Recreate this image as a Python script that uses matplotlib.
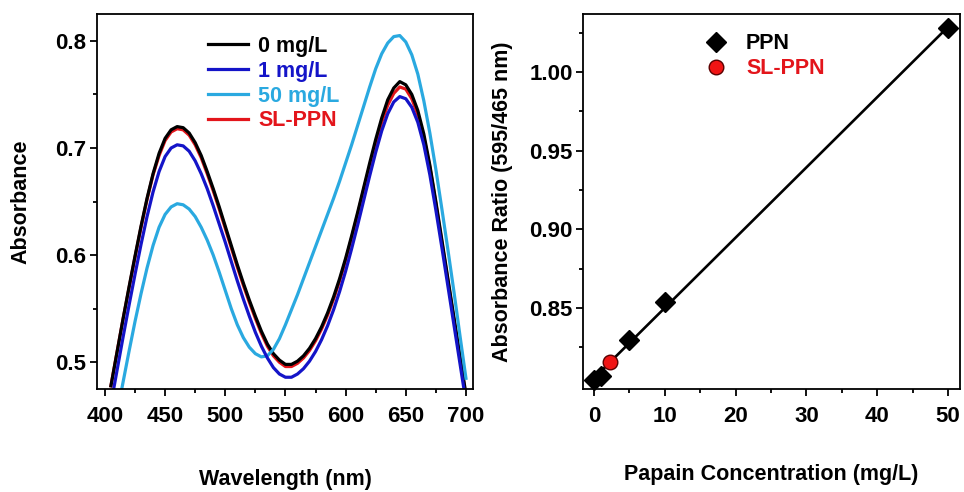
"""UV-vis spectra and papain calibration curve."""

import matplotlib
matplotlib.use("Agg")
import matplotlib.pyplot as plt
import numpy as np
from matplotlib.ticker import FixedLocator, MultipleLocator

plt.rcParams["font.family"] = ["Liberation Sans", "DejaVu Sans"]
plt.rcParams["font.weight"] = "bold"

# spectra, sampled every 5 nm
wavelength = np.arange(405, 705, 5)
abs_0 = [0.478, 0.509, 0.540, 0.570, 0.599, 0.627, 0.653, 0.676, 0.695, 0.709,
         0.717, 0.720, 0.719, 0.714, 0.705, 0.693, 0.678, 0.662, 0.645, 0.627,
         0.609, 0.591, 0.574, 0.558, 0.543, 0.529, 0.517, 0.508, 0.502, 0.498,
         0.498, 0.501, 0.506, 0.513, 0.522, 0.533, 0.546, 0.561, 0.578, 0.597,
         0.618, 0.640, 0.663, 0.686, 0.708, 0.728, 0.745, 0.756, 0.762, 0.759,
         0.750, 0.735, 0.713, 0.684, 0.650, 0.614, 0.578, 0.542, 0.506, 0.470]
abs_1 = [0.461, 0.492, 0.523, 0.553, 0.582, 0.610, 0.636, 0.659, 0.678, 0.692,
         0.700, 0.703, 0.702, 0.697, 0.688, 0.676, 0.662, 0.646, 0.629, 0.612,
         0.594, 0.576, 0.559, 0.543, 0.528, 0.515, 0.504, 0.495, 0.489, 0.486,
         0.486, 0.489, 0.494, 0.501, 0.510, 0.521, 0.534, 0.549, 0.566, 0.585,
         0.606, 0.628, 0.651, 0.674, 0.696, 0.716, 0.732, 0.743, 0.748, 0.746,
         0.738, 0.724, 0.703, 0.675, 0.642, 0.607, 0.571, 0.535, 0.499, 0.463]
abs_50 = [0.423, 0.452, 0.481, 0.510, 0.538, 0.564, 0.588, 0.609, 0.626, 0.638,
          0.645, 0.648, 0.647, 0.643, 0.636, 0.626, 0.614, 0.600, 0.584, 0.567,
          0.550, 0.535, 0.523, 0.514, 0.508, 0.505, 0.506, 0.512, 0.522, 0.535,
          0.549, 0.563, 0.578, 0.593, 0.608, 0.623, 0.638, 0.653, 0.669, 0.686,
          0.703, 0.721, 0.739, 0.757, 0.774, 0.788, 0.798, 0.804, 0.805, 0.799,
          0.787, 0.769, 0.744, 0.714, 0.680, 0.643, 0.605, 0.566, 0.525, 0.485]
abs_sl = [0.478, 0.509, 0.540, 0.569, 0.598, 0.626, 0.652, 0.675, 0.693, 0.707,
          0.715, 0.718, 0.717, 0.712, 0.703, 0.691, 0.676, 0.660, 0.643, 0.625,
          0.607, 0.589, 0.572, 0.556, 0.541, 0.527, 0.515, 0.506, 0.500, 0.496,
          0.496, 0.499, 0.504, 0.511, 0.520, 0.531, 0.544, 0.559, 0.576, 0.595,
          0.616, 0.638, 0.661, 0.683, 0.704, 0.724, 0.740, 0.751, 0.757, 0.755,
          0.746, 0.731, 0.710, 0.682, 0.648, 0.612, 0.576, 0.540, 0.504, 0.468]

# calibration
conc_ppn = [0, 1, 5, 10, 50]
ratio_ppn = [0.8045, 0.8065, 0.8295, 0.8535, 1.0278]
conc_sl = [2.3]
ratio_sl = [0.8158]
ratio_ticks = [0.85, 0.90, 0.95, 1.00]
ratio_minor = [0.825, 0.875, 0.925, 0.975, 1.025]

C_BLACK = "#000000"
C_BLUE = "#1414c8"
C_CYAN = "#2aa9e0"
C_RED = "#e3151b"
FS = 15.5
TICK_FS = 16


def style_axes(ax):
    for sp in ax.spines.values():
        sp.set_linewidth(1.3)
    ax.tick_params(which="both", direction="out", top=False, right=False,
                   labelsize=TICK_FS, width=1.3)
    ax.tick_params(which="major", length=5)
    ax.tick_params(which="minor", length=3)
    ax.tick_params(axis="x", which="both", pad=7)
    ax.tick_params(axis="y", which="both", pad=2.5)


fig = plt.figure(figsize=(9.64, 4.92), dpi=100)
ax1 = fig.add_axes([0.1006, 0.2093, 0.390, 0.762])
ax2 = fig.add_axes([0.6048, 0.2093, 0.391, 0.762])

lw = 2.3
l_sl, = ax1.plot(wavelength, abs_sl, color=C_RED, lw=lw, label="SL-PPN")
l_0, = ax1.plot(wavelength, abs_0, color=C_BLACK, lw=lw, label="0 mg/L")
l_50, = ax1.plot(wavelength, abs_50, color=C_CYAN, lw=lw, label="50 mg/L")
l_1, = ax1.plot(wavelength, abs_1, color=C_BLUE, lw=lw, label="1 mg/L")
ax1.set_xlim(393.4, 705.8)
ax1.set_ylim(0.475, 0.825)
ax1.xaxis.set_major_locator(MultipleLocator(50))
ax1.xaxis.set_minor_locator(MultipleLocator(25))
ax1.yaxis.set_major_locator(MultipleLocator(0.1))
ax1.yaxis.set_minor_locator(MultipleLocator(0.05))
ax1.yaxis.set_major_formatter(plt.FormatStrFormatter("%.1f"))
style_axes(ax1)
ax1.set_xlabel("Wavelength (nm)", fontsize=FS, fontweight="bold")
ax1.set_ylabel("Absorbance", fontsize=FS, fontweight="bold")
ax1.xaxis.set_label_coords(0.5, -0.212)
ax1.yaxis.set_label_coords(-0.173, 0.5)
ax1.legend(handles=[l_0, l_1, l_50, l_sl], loc="upper left",
           bbox_to_anchor=(0.295, 0.942), frameon=False, fontsize=FS,
           labelcolor="linecolor", handlelength=1.85, handletextpad=0.5,
           labelspacing=0.18, borderpad=0, borderaxespad=0)

slope, intercept = np.polyfit(conc_ppn, ratio_ppn, 1)
fit_x = np.array([0, 50])
ax2.plot(fit_x, slope * fit_x + intercept, color=C_BLACK, lw=1.9, zorder=1)
ax2.plot(conc_ppn, ratio_ppn, ls="none", marker="D", ms=10, color=C_BLACK,
         mec=C_BLACK, zorder=2, clip_on=False, label="PPN")
ax2.plot(conc_sl, ratio_sl, ls="none", marker="o", ms=10.5, color="#f01414",
         mec="#5a0000", mew=1.0, zorder=3, clip_on=False, label="SL-PPN")
ax2.set_xlim(-1.55, 51.7)
ax2.set_ylim(0.7985, 1.0368)
ax2.xaxis.set_major_locator(MultipleLocator(10))
ax2.xaxis.set_minor_locator(MultipleLocator(5))
ax2.yaxis.set_major_locator(FixedLocator(ratio_ticks))
ax2.yaxis.set_minor_locator(FixedLocator(ratio_minor))
ax2.yaxis.set_major_formatter(plt.FormatStrFormatter("%.2f"))
style_axes(ax2)
ax2.set_xlabel("Papain Concentration (mg/L)", fontsize=FS, fontweight="bold")
ax2.set_ylabel("Absorbance Ratio (595/465 nm)", fontsize=FS, fontweight="bold")
ax2.xaxis.set_label_coords(0.5, -0.199)
ax2.yaxis.set_label_coords(-0.186, 0.5)
leg2 = ax2.legend(loc="upper left", bbox_to_anchor=(0.324, 0.949), frameon=False,
                  fontsize=FS, numpoints=1, handlelength=1.0, handletextpad=0.9,
                  labelspacing=0.18, borderpad=0, borderaxespad=0)
leg2.get_texts()[0].set_color(C_BLACK)
leg2.get_texts()[1].set_color(C_RED)

fig.savefig("out.png", dpi=100)
